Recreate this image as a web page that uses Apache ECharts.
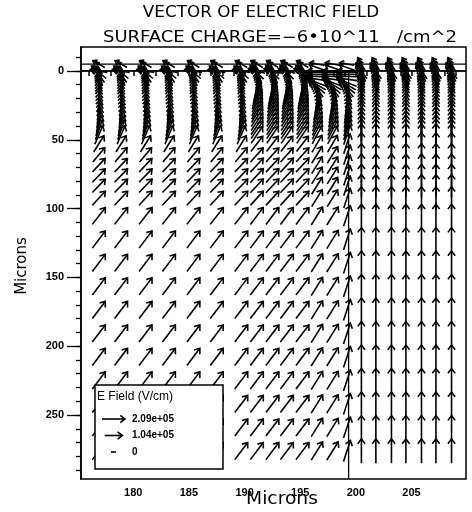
<!DOCTYPE html>
<html lang="en" style="height: 100%">
<head>
<meta charset="utf-8">
<title>Vector of Electric Field</title>
</head>
<body style="height: 100%; margin: 0; background: #fff">
<div id="container" style="width: 472px; height: 512px"></div>
<script type="text/javascript" src="https://cdn.jsdelivr.net/npm/echarts@6/dist/echarts.min.js"></script>
<script type="text/javascript">

var dom = document.getElementById('container');
var myChart = echarts.init(dom, null, { renderer: 'canvas' });
var option;

// mesh columns (microns) and the zone each column sits in
var xCols = [176.9, 178.9, 181.1, 183.2, 185.4, 187.5, 189.7, 191.1, 192.5, 193.8, 195.2,
             196.5, 197.9, 199.2, 200.5, 201.8, 203.2, 204.5, 205.9, 207.2, 208.6];
var colZone = ['A', 'A', 'A', 'A', 'A', 'A', 'A', 'B', 'B', 'B', 'B',
               'D', 'D', 'J', 'C', 'C', 'C', 'C', 'C', 'C', 'C'];

// mesh rows (microns below surface)
var yRows = [-5, -2.5, 0, 1, 2.5, 4, 6,
             8.5, 10, 11.5, 13, 15, 17, 19, 21, 23.5, 26, 28.5, 31, 34, 37, 40, 43, 46.5,
             53, 61, 68.5, 76, 83.5, 92.5,
             105.4, 122.5, 139.5, 156.6, 173.7, 190.8, 207.8, 224.9, 242.0, 259.1, 276.2];

// field direction per row (degrees, 90 = up) for each zone
var angA = [150, 120, 170, 140, 125, 112, 102,
            96, 94, 93, 92, 91, 90, 89, 88, 86, 85, 83, 81, 79, 77, 74, 71, 67,
            58, 50, 47, 46, 46, 47,
            52, 53, 53, 53, 53, 53, 53, 53, 53, 53, 53];
var angB = [150, 120, 165, 135, 120, 110, 100,
            90, 85, 80, 76, 72, 69, 66, 64, 62, 61, 60, 59, 58, 57, 57, 56, 56,
            52, 48, 47, 47, 47, 48,
            53, 53, 53, 53, 53, 53, 53, 53, 53, 53, 53];
var angD = [170, 160, 180, 180, 180, 178, 172,
            160, 150, 140, 128, 115, 105, 95, 87, 80, 76, 72, 70, 67, 65, 64, 63, 62,
            60, 58, 58, 58, 58, 58,
            58, 58, 58, 58, 58, 58, 58, 58, 58, 58, 58];
var angJ = [170, 160, 180, 180, 180, 178, 172,
            160, 150, 140, 128, 115, 105, 95, 88, 83, 80, 78, 76, 75, 74, 73, 72, 72,
            72, 72, 72, 72, 72, 72,
            72, 72, 72, 72, 72, 72, 72, 72, 72, 72, 72];
var angC = [120, 110, 125, 115, 108, 103, 99,
            96, 95, 94, 93, 92, 91, 91, 90, 90, 90, 90, 90, 90, 90, 90, 90, 90,
            90, 90, 90, 90, 90, 90,
            90, 90, 90, 90, 90, 90, 90, 90, 90, 90, 90];

// field magnitude per row (1e5 V/cm) for each zone
var magA = [0.5, 0.6, 1.0, 1.3, 1.4, 1.5, 1.6,
            1.6, 1.6, 1.6, 1.6, 1.6, 1.6, 1.6, 1.6, 1.6, 1.6, 1.6, 1.6, 1.6, 1.6, 1.6, 1.55, 1.5,
            1.3, 1.2, 1.2, 1.2, 1.2, 1.3,
            1.7, 1.75, 1.75, 1.75, 1.75, 1.75, 1.75, 1.75, 1.75, 1.75, 1.75];
var magB = [0.5, 0.6, 1.0, 1.3, 1.4, 1.5, 1.6,
            1.6, 1.6, 1.6, 1.6, 1.6, 1.6, 1.6, 1.6, 1.6, 1.6, 1.6, 1.6, 1.6, 1.6, 1.6, 1.55, 1.5,
            1.3, 1.25, 1.25, 1.25, 1.25, 1.3,
            1.7, 1.75, 1.75, 1.75, 1.75, 1.75, 1.75, 1.75, 1.75, 1.75, 1.75];
var magD = [0.6, 0.8, 1.3, 1.5, 1.6, 1.6, 1.6,
            1.6, 1.6, 1.6, 1.6, 1.6, 1.6, 1.6, 1.6, 1.6, 1.6, 1.6, 1.6, 1.6, 1.6, 1.6, 1.55, 1.5,
            1.4, 1.4, 1.4, 1.4, 1.4, 1.4,
            1.7, 1.75, 1.75, 1.75, 1.75, 1.75, 1.75, 1.75, 1.75, 1.75, 1.75];
var magJ = [0.6, 0.8, 1.3, 1.5, 1.6, 1.6, 1.6,
            1.6, 1.6, 1.6, 1.6, 1.6, 1.6, 1.6, 1.6, 1.6, 1.6, 1.6, 1.6, 1.6, 1.6, 1.6, 1.6, 1.6,
            1.6, 1.6, 1.6, 1.6, 1.6, 1.6,
            1.8, 1.9, 1.9, 1.9, 1.9, 1.9, 1.9, 1.9, 1.9, 1.9, 1.9];
var magC = [0.6, 0.8, 1.3, 1.5, 1.6, 1.7, 1.8,
            1.9, 1.95, 2.0, 2.0, 2.0, 2.0, 2.0, 2.0, 2.0, 2.0, 2.0, 2.0, 2.0, 2.0, 2.0, 2.0, 2.0,
            2.0, 2.0, 2.0, 2.0, 2.0, 2.1,
            2.2, 2.3, 2.3, 2.3, 2.3, 2.3, 2.3, 2.3, 2.3, 2.3, 2.4];

// legend reference vectors (1e5 V/cm)
var legendMags = [2.09, 1.04, 0];
var legendLabels = ['2.09e+05', '1.04e+05', '0'];

// structure lines
var interfaceDepths = [-5, 0];
var junctionX = 199.35;

// axis ticks
var xMin = 175.3, xMax = 209.9, yMin = -17.4, yMax = 296.5;
var xMajor = [180, 185, 190, 195, 200, 205];
var xMinor = [176, 177, 178, 179, 180, 181, 182, 183, 184, 185, 186, 187, 188, 189, 190, 191, 192,
              193, 194, 195, 196, 197, 198, 199, 200, 201, 202, 203, 204, 205, 206, 207, 208, 209];
var yMajor = [0, 50, 100, 150, 200, 250];
var yMinor = [-10, 0, 10, 20, 30, 40, 50, 60, 70, 80, 90, 100, 110, 120, 130, 140, 150, 160,
              170, 180, 190, 200, 210, 220, 230, 240, 250, 260, 270, 280, 290];

var zones = {
    A: { ang: angA, mag: magA },
    B: { ang: angB, mag: magB },
    D: { ang: angD, mag: magD },
    J: { ang: angJ, mag: magJ },
    C: { ang: angC, mag: magC }
};

var vectors = [];
yRows.forEach(function (y, r) {
    xCols.forEach(function (x, c) {
        var z = zones[colZone[c]];
        vectors.push([x, y, z.ang[r], z.mag[r]]);
    });
});

var refMag = legendMags[0];
function arrowLen(m) {
    return 5 + 18 * Math.sqrt(m / refMag);
}

// arrow centred on (cx, cy)
function arrowShapes(cx, cy, angDeg, m, z) {
    var a = angDeg * Math.PI / 180;
    var L = arrowLen(m);
    var ux = Math.cos(a), uy = -Math.sin(a);
    var tx = cx - ux * L / 2, ty = cy - uy * L / 2;
    var hx = cx + ux * L / 2, hy = cy + uy * L / 2;
    var h = Math.min(6, L * 0.35), s = 0.65;
    var bx = -ux, by = -uy;
    var b1 = [hx + h * (bx * Math.cos(s) - by * Math.sin(s)), hy + h * (bx * Math.sin(s) + by * Math.cos(s))];
    var b2 = [hx + h * (bx * Math.cos(-s) - by * Math.sin(-s)), hy + h * (bx * Math.sin(-s) + by * Math.cos(-s))];
    var style = { stroke: '#000', lineWidth: 1.6, fill: null };
    var out = [{ type: 'polyline', z: z, shape: { points: [[tx, ty], [hx, hy]] }, style: style }];
    if (m > 0) {
        out.push({ type: 'polyline', z: z, shape: { points: [b1, [hx, hy], b2] }, style: style });
    }
    return out;
}

function renderArrow(params, api) {
    var p = api.coord([api.value(0), api.value(1)]);
    return { type: 'group', children: arrowShapes(p[0], p[1], api.value(2), api.value(3)) };
}

var lineStyle = { color: '#000', width: 1.3 };
var structSeries = interfaceDepths.map(function (d) {
    return {
        type: 'line', data: [[xMin, d], [xMax, d]], symbol: 'none',
        lineStyle: lineStyle, silent: true, animation: false
    };
});
structSeries.push({
    type: 'line', data: [[junctionX, 0], [junctionX, yMax]], symbol: 'none',
    lineStyle: lineStyle, silent: true, animation: false
});

// legend box
var legendGraphic = [
    { type: 'rect', shape: { x: 95, y: 385, width: 128, height: 84 },
      style: { fill: '#fff', stroke: '#000', lineWidth: 1.5 }, z: 100 },
    { type: 'text', x: 97, y: 397, z: 101,
      style: { text: 'E Field (V/cm)', font: '12px "Liberation Sans"', fill: '#000', textVerticalAlign: 'middle' } }
];
legendMags.forEach(function (m, i) {
    var cy = 419 + i * 16.5;
    legendGraphic.push({ type: 'group', z: 101, children: arrowShapes(113.5, cy, 0, m, 101) });
    legendGraphic.push({ type: 'text', x: 132, y: cy, z: 101,
        style: { text: legendLabels[i], font: 'bold 10px "Liberation Sans Narrow", "Liberation Sans"', fill: '#000', textVerticalAlign: 'middle' } });
});

var titleGraphic = [
    { type: 'text', x: 261, y: 13, scaleX: 1.12, style: { text: 'VECTOR OF ELECTRIC FIELD', font: '15px "DejaVu Sans"', fill: '#000', textAlign: 'center', textVerticalAlign: 'middle' } },
    { type: 'text', x: 280, y: 38, scaleX: 1.2, style: { text: 'SURFACE CHARGE=\u22126\u202210^11   /cm^2', font: '15px "DejaVu Sans"', fill: '#000', textAlign: 'center', textVerticalAlign: 'middle' } },
    { type: 'text', x: 282, y: 500, scaleX: 1.1, style: { text: 'Microns', font: '17px "DejaVu Sans"', fill: '#000', textAlign: 'center', textVerticalAlign: 'middle' }, z: 50 },
    { type: 'text', x: 22, y: 266, rotation: Math.PI / 2, style: { text: 'Microns', font: '15px "DejaVu Sans"', fill: '#000', textAlign: 'center', textVerticalAlign: 'middle' } }
];

var axisLbl = { color: '#000', fontSize: 11, fontWeight: 'bold', fontFamily: 'Liberation Sans' };

option = {
    animation: false,
    backgroundColor: '#fff',
    grid: { left: 81, right: 6, top: 47, bottom: 33, show: true, borderColor: '#000', borderWidth: 1.5 },
    xAxis: [{
        type: 'value', min: xMin, max: xMax, position: 'bottom',
        axisLine: { lineStyle: { color: '#000', width: 1.5 } },
        axisTick: { customValues: xMinor, length: 5, lineStyle: { color: '#000', width: 1.5 } },
        axisLabel: Object.assign({ customValues: xMajor, margin: 8 }, axisLbl),
        splitLine: { show: false }
    }],
    yAxis: [{
        type: 'value', min: yMin, max: yMax, inverse: true, position: 'left',
        axisLine: { lineStyle: { color: '#000', width: 1.5 } },
        axisTick: { customValues: yMajor, length: 14, lineStyle: { color: '#000', width: 1.3 } },
        axisLabel: Object.assign({ customValues: yMajor, margin: 17 }, axisLbl),
        splitLine: { show: false }
    }, {
        type: 'value', min: yMin, max: yMax, inverse: true, position: 'left',
        axisLine: { show: false },
        axisTick: { customValues: yMinor, length: 5, lineStyle: { color: '#000', width: 1.3 } },
        axisLabel: { show: false },
        splitLine: { show: false }
    }],
    graphic: titleGraphic.concat(legendGraphic),
    series: [{
        type: 'custom',
        renderItem: renderArrow,
        data: vectors,
        clip: false,
        silent: true
    }].concat(structSeries)
};

if (option && typeof option === 'object') {
    myChart.setOption(option);
}

window.addEventListener('resize', myChart.resize);
</script>
</body>
</html>
